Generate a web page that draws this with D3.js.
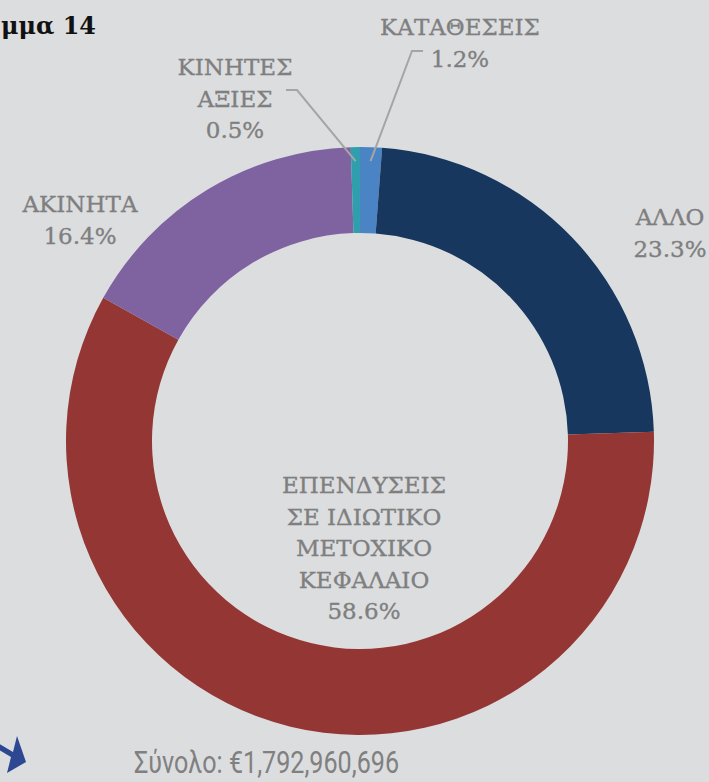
<!DOCTYPE html>
<html lang="el">
<head>
    <meta charset="UTF-8">
    <title>Γράφημα 14</title>
    <script src="https://cdn.jsdelivr.net/npm/d3@7"></script>
    <style>
        body { margin: 0; background: #dcdddf; }
        svg { display: block; }
        .lbl { font-family: "DejaVu Serif", serif; font-size: 23px; fill: #7f7f7f; stroke: #7f7f7f; stroke-width: 0.35px; }
    </style>
</head>
<body>
<svg width="709" height="782"></svg>
<script>
    // data
    const categories = ["ΚΑΤΑΘΕΣΕΙΣ", "ΑΛΛΟ", "ΕΠΕΝΔΥΣΕΙΣ ΣΕ ΙΔΙΩΤΙΚΟ ΜΕΤΟΧΙΚΟ ΚΕΦΑΛΑΙΟ", "ΑΚΙΝΗΤΑ", "ΚΙΝΗΤΕΣ ΑΞΙΕΣ"]
    const shares = [1.2, 23.3, 58.6, 16.4, 0.5]
    const colors = ["#4a84c4", "#17375e", "#943634", "#7f62a0", "#2f9fae"]
    const labelLines = [
        ["ΚΑΤΑΘΕΣΕΙΣ", "1.2%"],
        ["ΑΛΛΟ", "23.3%"],
        ["ΕΠΕΝΔΥΣΕΙΣ", "ΣΕ ΙΔΙΩΤΙΚΟ", "ΜΕΤΟΧΙΚΟ", "ΚΕΦΑΛΑΙΟ", "58.6%"],
        ["ΑΚΙΝΗΤΑ", "16.4%"],
        ["ΚΙΝΗΤΕΣ", "ΑΞΙΕΣ", "0.5%"]
    ]
    const totalText = "Σύνολο: €1,792,960,696"

    const svg = d3.select("svg")
    const cx = 360, cy = 441, rOuter = 294, rInner = 208

    svg.append("rect").attr("width", 709).attr("height", 782).attr("fill", "#dcdddf")

    const pie = d3.pie().sort(null).value(d => d)
    const arc = d3.arc().innerRadius(rInner).outerRadius(rOuter)
    const arcs = pie(shares)

    const ring = svg.append("g").attr("transform", `translate(${cx},${cy})`)
    ring.selectAll("path")
        .data(arcs)
        .join("path")
        .attr("d", arc)
        .attr("fill", (d, i) => colors[i])

    // label anchors (x centre, first baseline) and leader lines
    const labelPos = [[460, 35], [670, 225], [364, 493], [80, 212], [235, 75]]
    const lineGap = 31.5

    const labels = svg.append("g")
    labelLines.forEach((lines, i) => {
        const t = labels.append("text")
            .attr("class", "lbl")
            .attr("text-anchor", "middle")
        lines.forEach((s, k) => {
            t.append("tspan")
                .attr("x", labelPos[i][0])
                .attr("y", labelPos[i][1] + k * lineGap)
                .text(s)
        })
    })

    // leader lines end on the middle of the thin slices
    function leader(i, elbow, knee) {
        const a = (arcs[i].startAngle + arcs[i].endAngle) / 2
        const r = rOuter - 14
        const end = [cx + r * Math.sin(a), cy - r * Math.cos(a)]
        svg.append("polyline")
            .attr("points", [elbow, knee, end].map(p => p.join(",")).join(" "))
            .attr("fill", "none")
            .attr("stroke", "#a5a5a5")
            .attr("stroke-width", 2)
    }
    leader(0, [423, 51], [412, 51])
    leader(4, [286, 90], [297, 90])

    // title: only the visible tail of "Γράφημα 14" shows in the crop
    svg.append("text")
        .attr("x", 1).attr("y", 34)
        .attr("font-family", "DejaVu Serif, serif")
        .attr("font-weight", "bold")
        .attr("font-size", 24)
        .attr("fill", "#111")
        .attr("textLength", 95)
        .attr("lengthAdjust", "spacingAndGlyphs")
        .text("μμα 14")

    // arrow at bottom left
    svg.append("path")
        .attr("d", "M-2,743 L13,752 L17,736 L26,762 L7,773 L11,757 L-4,748 Z")
        .attr("fill", "#2e4792")

    svg.append("text")
        .attr("x", 134).attr("y", 773)
        .attr("font-family", "Roboto, sans-serif")
        .attr("font-weight", 400)
        .attr("font-size", 31)
        .attr("fill", "#808080")
        .attr("textLength", 265)
        .attr("lengthAdjust", "spacingAndGlyphs")
        .text(totalText)
</script>
</body>
</html>
